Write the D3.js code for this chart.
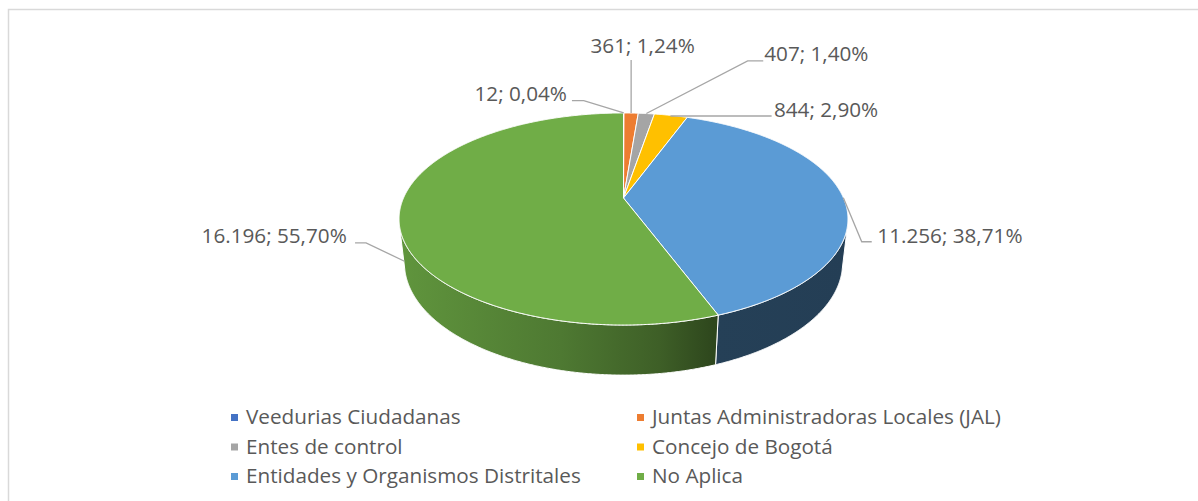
<!DOCTYPE html>
<html>
<head>
<meta charset="utf-8">
<script src="https://cdn.jsdelivr.net/npm/d3@7"></script>
<style>
  html, body { margin: 0; padding: 0; background: #fff; }
  svg { display: block; font-family: "Open Sans", "Noto Sans", sans-serif; }
</style>
</head>
<body>
<svg id="chart" width="1198" height="501"></svg>
<script>
// Données du graphique
const categories = [
  "Veedurias Ciudadanas",
  "Juntas Administradoras Locales (JAL)",
  "Entes de control",
  "Concejo de Bogotá",
  "Entidades y Organismos Distritales",
  "No Aplica",
];
const values = [12, 361, 407, 844, 11256, 16196];
const colors = ["#4472C4", "#ED7D31", "#A5A5A5", "#FFC000", "#5B9BD5", "#70AD47"];

// Position des étiquettes (décalages par rapport au point d'ancrage sur la tranche)
// edge: 0 = bord supérieur, 1 = bord inférieur ; ex/ey = coude ; hl = segment horizontal ; tx/ty = texte
const labelLayout = [
  { edge: 0, ex: -40, ey: -12.3, hl: -11.8, tx: -5, ty: 0.3 },
  { edge: 0, ex: 0, ey: -53, hl: 0, tx: 11.5, ty: -6.7 },
  { edge: 0, ex: 101.3, ey: -52.7, hl: 15.6, tx: 1, ty: 0.3 },
  { edge: 0, ex: 0, ey: 0.6, hl: 100.7, tx: 2.3, ty: 0.7 },
  { edge: 0, ex: 18.4, ey: 44.1, hl: 10, tx: 5.6, ty: 1.6 },
  { edge: 1, ex: -38.4, ey: -18.3, hl: -11, tx: -8.3, ty: 0.3 },
];

const svg = d3.select("#chart");
const defs = svg.append("defs");

// cadre du graphique
svg.append("rect")
  .attr("x", 8.5).attr("y", 9.5)
  .attr("width", 1300).attr("height", 600)
  .attr("fill", "#fff")
  .attr("stroke", "#D9D9D9")
  .attr("stroke-width", 1.5);

const loc = d3.formatLocale({ decimal: ",", thousands: ".", grouping: [3], currency: ["", ""] });
const fmtNum = loc.format(",d");
const fmtPct = loc.format(".2%");
const total = d3.sum(values);

// Projection en perspective d'un disque 3D
const geo = { cx: 623.5, cy: 198, f: 984.3, R: 0.2235, h: 0.0508, phi: Math.asin(0.463) };
const sinP = Math.sin(geo.phi), cosP = Math.cos(geo.phi);

function project(theta, Y) {
  const X = geo.R * Math.sin(theta);
  const Z = -geo.R * Math.cos(theta);
  const yc = Z * sinP - Y * cosP;
  const zc = 1 - Y * sinP - Z * cosP;
  return [geo.cx + geo.f * X / zc, geo.cy + geo.f * yc / zc];
}

function rim(a0, a1, Y) {
  const n = Math.max(2, Math.ceil((a1 - a0) / 0.005));
  return d3.range(n + 1).map((i) => project(a0 + (a1 - a0) * i / n, Y));
}

const arcs = d3.pie().sort(null).value((d) => d)(values);

// zone visible de la paroi latérale
const tMin = Math.acos(-geo.R / cosP);
const tMax = 2 * Math.PI - tMin;

// dégradé de la paroi (fraction de la couleur de base selon x)
const shade = [[0, 0.86], [0.36, 0.70], [0.58, 0.55], [0.70, 0.41], [1, 0.40]];
const xExt = d3.extent(rim(0, 2 * Math.PI, 0), (p) => p[0]);

colors.forEach((c, i) => {
  const g = defs.append("linearGradient")
    .attr("id", "side" + i)
    .attr("gradientUnits", "userSpaceOnUse")
    .attr("x1", xExt[0]).attr("x2", xExt[1])
    .attr("y1", 0).attr("y2", 0);
  shade.forEach(([o, k]) => {
    const b = d3.rgb(c);
    g.append("stop")
      .attr("offset", o)
      .attr("stop-color", d3.rgb(b.r * k, b.g * k, b.b * k).formatHex());
  });
});

const line = d3.line();

// parois latérales
const walls = svg.append("g");
arcs.forEach((a, i) => {
  const s = Math.max(a.startAngle, tMin);
  const e = Math.min(a.endAngle, tMax);
  if (e <= s) return;
  const pts = rim(s, e, 0).concat(rim(s, e, -geo.h).reverse());
  walls.append("path")
    .attr("d", line(pts) + "Z")
    .attr("fill", `url(#side${i})`)
    .attr("stroke", "#fff")
    .attr("stroke-width", 1)
    .attr("stroke-linejoin", "round");
});

// faces supérieures
svg.append("g")
  .selectAll("path")
  .data(arcs)
  .join("path")
  .attr("d", (a) => line([[geo.cx, geo.cy]].concat(rim(a.startAngle, a.endAngle, 0))) + "Z")
  .attr("fill", (a, i) => colors[i])
  .attr("stroke", "#fff")
  .attr("stroke-width", 1)
  .attr("stroke-linejoin", "round");

// étiquettes de données avec lignes de rappel
const labels = svg.append("g");
arcs.forEach((a, i) => {
  const L = labelLayout[i];
  const mid = (a.startAngle + a.endAngle) / 2;
  const p0 = project(mid, L.edge ? -geo.h : 0);
  const p1 = [p0[0] + L.ex, p0[1] + L.ey];
  const p2 = [p1[0] + L.hl, p1[1]];
  labels.append("path")
    .attr("d", line([p0, p1, p2]))
    .attr("fill", "none")
    .attr("stroke", "#A6A6A6")
    .attr("stroke-width", 1.3);
  labels.append("text")
    .attr("x", p2[0] + L.tx)
    .attr("y", p2[1] + L.ty)
    .attr("text-anchor", L.hl < 0 ? "end" : L.hl > 0 ? "start" : "middle")
    .attr("font-size", "20.7px")
    .attr("fill", "#595959")
    .text(`${fmtNum(values[i])}; ${fmtPct(values[i] / total)}`);
});

// légende
const legend = svg.append("g")
  .selectAll("g")
  .data(categories)
  .join("g")
  .attr("transform", (d, i) => `translate(${231 + (i % 2) * 406},${424 + Math.floor(i / 2) * 29.5})`);

legend.append("rect")
  .attr("x", 0).attr("y", -10)
  .attr("width", 7).attr("height", 7)
  .attr("fill", (d, i) => colors[i]);

legend.append("text")
  .attr("x", 15)
  .attr("font-size", "20.7px")
  .attr("fill", "#595959")
  .text((d) => d);
</script>
</body>
</html>
